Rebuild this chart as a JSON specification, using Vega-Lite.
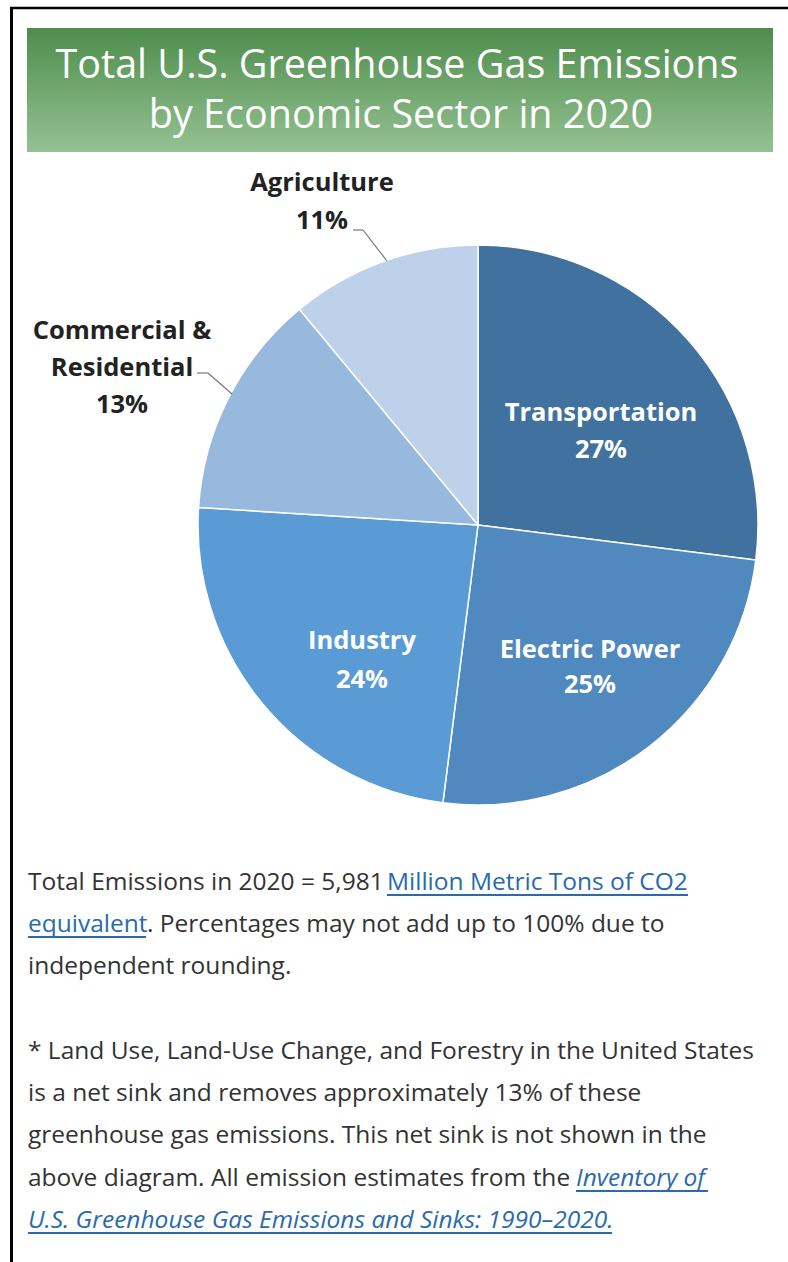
{
  "$schema": "https://vega.github.io/schema/vega-lite/v6.json",
  "width": 788,
  "height": 1262,
  "padding": 0,
  "autosize": {"type": "fit", "contains": "padding"},
  "background": "white",
  "view": {"stroke": null},
  "data": {"values": [
    {"sector": "Transportation", "value": 27, "order": 1},
    {"sector": "Electric Power", "value": 25, "order": 2},
    {"sector": "Industry", "value": 24, "order": 3},
    {"sector": "Commercial & Residential", "value": 13, "order": 4},
    {"sector": "Agriculture", "value": 11, "order": 5}
  ]},
  "layer": [
    {"data": {"values": [{}]}, "mark": {"type": "rule", "stroke": "#000000", "strokeWidth": 2.5}, "encoding": {"x": {"value": 10}, "x2": {"value": 788}, "y": {"value": 8}, "y2": {"value": 8}}},
    {"data": {"values": [{}]}, "mark": {"type": "rule", "stroke": "#000000", "strokeWidth": 3}, "encoding": {"x": {"value": 11.5}, "x2": {"value": 11.5}, "y": {"value": 7}, "y2": {"value": 1262}}},
    {"data": {"values": [{}]}, "mark": {"type": "rect", "x": 27, "x2": 773, "y": 28, "y2": 152,
      "fill": {"gradient": "linear", "x1": 0, "y1": 0, "x2": 0, "y2": 1, "stops": [{"offset": 0, "color": "#4e8d4c"}, {"offset": 1, "color": "#95c192"}]}}, "encoding": {}},
    {"data": {"values": [{"t": "Total U.S. Greenhouse Gas Emissions"}]}, "mark": {"type": "text", "x": 397, "y": 78, "align": "center", "baseline": "alphabetic", "font": "Open Sans", "fontSize": 39.5, "color": "white"}, "encoding": {"text": {"field": "t"}}},
    {"data": {"values": [{"t": "by Economic Sector in 2020"}]}, "mark": {"type": "text", "x": 401, "y": 128, "align": "center", "baseline": "alphabetic", "font": "Open Sans", "fontSize": 39.5, "color": "white"}, "encoding": {"text": {"field": "t"}}},
    {
      "mark": {"type": "arc", "x": 478, "y": 525, "outerRadius": 280, "stroke": "white", "strokeWidth": 1.5},
      "encoding": {
        "theta": {"field": "value", "type": "quantitative", "stack": true},
        "order": {"field": "order", "type": "quantitative"},
        "color": {"field": "sector", "type": "nominal", "legend": null,
          "scale": {"domain": ["Transportation", "Electric Power", "Industry", "Commercial & Residential", "Agriculture"],
                    "range": ["#41729f", "#4f89c0", "#5b9bd5", "#98b9de", "#bdd1ea"]}}
      }
    },
    {"data": {"values": [{"t": ["Transportation", "27%"]}]}, "mark": {"type": "text", "x": 601, "y": 413, "align": "center", "baseline": "middle", "lineHeight": 37, "font": "Open Sans", "fontWeight": "bold", "fontSize": 25.5, "color": "white"}, "encoding": {"text": {"field": "t"}}},
    {"data": {"values": [{"t": ["Electric Power", "25%"]}]}, "mark": {"type": "text", "x": 590, "y": 650, "align": "center", "baseline": "middle", "lineHeight": 35, "font": "Open Sans", "fontWeight": "bold", "fontSize": 25.5, "color": "white"}, "encoding": {"text": {"field": "t"}}},
    {"data": {"values": [{"t": ["Industry", "24%"]}]}, "mark": {"type": "text", "x": 362, "y": 641, "align": "center", "baseline": "middle", "lineHeight": 39, "font": "Open Sans", "fontWeight": "bold", "fontSize": 25.5, "color": "white"}, "encoding": {"text": {"field": "t"}}},
    {"data": {"values": [{"t": ["Agriculture", "11%"]}]}, "mark": {"type": "text", "x": 322, "y": 183, "align": "center", "baseline": "middle", "lineHeight": 38, "font": "Open Sans", "fontWeight": "bold", "fontSize": 25.5, "color": "#222222"}, "encoding": {"text": {"field": "t"}}},
    {"data": {"values": [{"t": ["Commercial &", "Residential", "13%"]}]}, "mark": {"type": "text", "x": 122, "y": 331, "align": "center", "baseline": "middle", "lineHeight": 37, "font": "Open Sans", "fontWeight": "bold", "fontSize": 25.5, "color": "#222222"}, "encoding": {"text": {"field": "t"}}},
    {"data": {"values": [{}]}, "mark": {"type": "rule", "stroke": "#777777", "strokeWidth": 1.2}, "encoding": {"x": {"value": 353}, "x2": {"value": 363}, "y": {"value": 230}, "y2": {"value": 230}}},
    {"data": {"values": [{}]}, "mark": {"type": "rule", "stroke": "#777777", "strokeWidth": 1.2}, "encoding": {"x": {"value": 363}, "x2": {"value": 387}, "y": {"value": 230}, "y2": {"value": 261}}},
    {"data": {"values": [{}]}, "mark": {"type": "rule", "stroke": "#777777", "strokeWidth": 1.2}, "encoding": {"x": {"value": 197}, "x2": {"value": 208}, "y": {"value": 373}, "y2": {"value": 373}}},
    {"data": {"values": [{}]}, "mark": {"type": "rule", "stroke": "#777777", "strokeWidth": 1.2}, "encoding": {"x": {"value": 208}, "x2": {"value": 232}, "y": {"value": 373}, "y2": {"value": 394}}},
    {"data": {"values": [{"t": "Total Emissions in 2020 = 5,981"}]}, "mark": {"type": "text", "x": 28, "y": 890, "align": "left", "baseline": "alphabetic", "font": "Open Sans", "fontSize": 24.5, "color": "#333333"}, "encoding": {"text": {"field": "t"}}},
    {"data": {"values": [{"t": "Million Metric Tons of CO2"}]}, "mark": {"type": "text", "x": 387, "y": 890, "align": "left", "baseline": "alphabetic", "font": "Open Sans", "fontSize": 24.5, "color": "#2a6aad"}, "encoding": {"text": {"field": "t"}}},
    {"data": {"values": [{}]}, "mark": {"type": "rule", "stroke": "#2a6aad", "strokeWidth": 1.8}, "encoding": {"x": {"value": 387}, "x2": {"value": 688}, "y": {"value": 895}, "y2": {"value": 895}}},
    {"data": {"values": [{"t": "equivalent"}]}, "mark": {"type": "text", "x": 28, "y": 932, "align": "left", "baseline": "alphabetic", "font": "Open Sans", "fontSize": 24.5, "color": "#2a6aad"}, "encoding": {"text": {"field": "t"}}},
    {"data": {"values": [{}]}, "mark": {"type": "rule", "stroke": "#2a6aad", "strokeWidth": 1.8}, "encoding": {"x": {"value": 28}, "x2": {"value": 146}, "y": {"value": 937}, "y2": {"value": 937}}},
    {"data": {"values": [{"t": ". Percentages may not add up to 100% due to"}]}, "mark": {"type": "text", "x": 147, "y": 932, "align": "left", "baseline": "alphabetic", "font": "Open Sans", "fontSize": 24.5, "color": "#333333"}, "encoding": {"text": {"field": "t"}}},
    {"data": {"values": [{"t": "independent rounding."}]}, "mark": {"type": "text", "x": 28, "y": 974, "align": "left", "baseline": "alphabetic", "font": "Open Sans", "fontSize": 24.5, "color": "#333333"}, "encoding": {"text": {"field": "t"}}},
    {"data": {"values": [{"t": "* Land Use, Land-Use Change, and Forestry in the United States"}]}, "mark": {"type": "text", "x": 28, "y": 1059, "align": "left", "baseline": "alphabetic", "font": "Open Sans", "fontSize": 24.5, "color": "#333333"}, "encoding": {"text": {"field": "t"}}},
    {"data": {"values": [{"t": "is a net sink and removes approximately 13% of these"}]}, "mark": {"type": "text", "x": 28, "y": 1101, "align": "left", "baseline": "alphabetic", "font": "Open Sans", "fontSize": 24.5, "color": "#333333"}, "encoding": {"text": {"field": "t"}}},
    {"data": {"values": [{"t": "greenhouse gas emissions. This net sink is not shown in the"}]}, "mark": {"type": "text", "x": 28, "y": 1143, "align": "left", "baseline": "alphabetic", "font": "Open Sans", "fontSize": 24.5, "color": "#333333"}, "encoding": {"text": {"field": "t"}}},
    {"data": {"values": [{"t": "above diagram. All emission estimates from the"}]}, "mark": {"type": "text", "x": 28, "y": 1186, "align": "left", "baseline": "alphabetic", "font": "Open Sans", "fontSize": 24.5, "color": "#333333"}, "encoding": {"text": {"field": "t"}}},
    {"data": {"values": [{"t": "Inventory of"}]}, "mark": {"type": "text", "x": 576, "y": 1186, "align": "left", "baseline": "alphabetic", "font": "Open Sans", "fontSize": 24.5, "fontStyle": "italic", "color": "#2a6aad"}, "encoding": {"text": {"field": "t"}}},
    {"data": {"values": [{}]}, "mark": {"type": "rule", "stroke": "#2a6aad", "strokeWidth": 1.8}, "encoding": {"x": {"value": 576}, "x2": {"value": 708}, "y": {"value": 1191}, "y2": {"value": 1191}}},
    {"data": {"values": [{"t": "U.S. Greenhouse Gas Emissions and Sinks: 1990–2020."}]}, "mark": {"type": "text", "x": 28, "y": 1228, "align": "left", "baseline": "alphabetic", "font": "Open Sans", "fontSize": 24.5, "fontStyle": "italic", "color": "#2a6aad"}, "encoding": {"text": {"field": "t"}}},
    {"data": {"values": [{}]}, "mark": {"type": "rule", "stroke": "#2a6aad", "strokeWidth": 1.8}, "encoding": {"x": {"value": 28}, "x2": {"value": 612}, "y": {"value": 1233}, "y2": {"value": 1233}}}
  ]
}
